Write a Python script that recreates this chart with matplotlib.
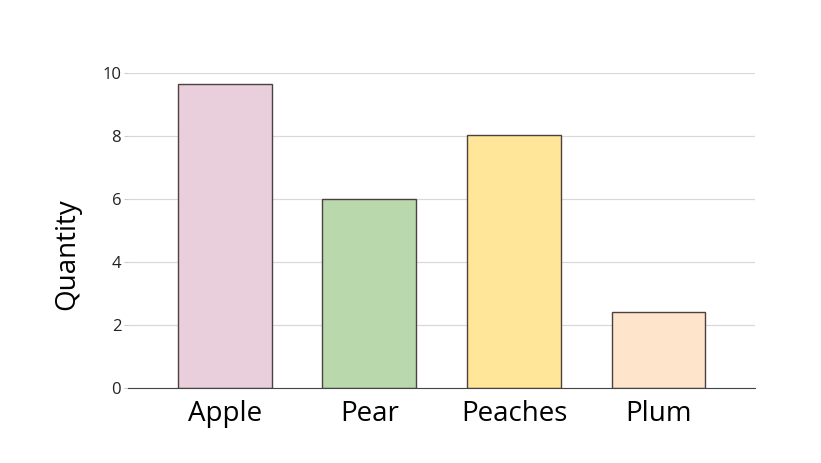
import matplotlib
matplotlib.use("Agg")
import matplotlib.pyplot as plt

# data
fruits = ["Apple", "Pear", "Peaches", "Plum"]
quantity = [9.65, 6.0, 8.05, 2.4]
colors = ["#E8CFDB", "#B9D9AC", "#FFE699", "#FDE4CA"]

plt.rcParams['font.family'] = ['Open Sans', 'DejaVu Sans']

fig = plt.figure(figsize=(8.21, 4.63), dpi=100)
ax = fig.add_axes([0.156, 0.162, 0.764, 0.68])

ax.bar(range(len(fruits)), quantity, width=0.65, color=colors,
       edgecolor="#4d4040", linewidth=1.0, zorder=3)

ax.set_xlim(-0.67, 3.67)
ax.set_ylim(0, 10)
ax.set_yticks([0, 2, 4, 6, 8, 10])
ax.set_xticks(range(len(fruits)))
ax.set_xticklabels(fruits, fontsize=20)
ax.tick_params(axis="y", labelsize=12, length=3, pad=2, color="#cccccc")
ax.tick_params(axis="x", length=0, pad=9)
for lab in ax.get_yticklabels():
    lab.set_color("#222222")

ax.grid(axis="y", color="#d9d9d9", linewidth=0.9, zorder=0)
for s in ["top", "right", "left"]:
    ax.spines[s].set_visible(False)
ax.spines["bottom"].set_color("#444444")
ax.spines["bottom"].set_zorder(4)

ax.set_ylabel("Quantity", fontsize=20)
ax.yaxis.set_label_coords(-0.074, 0.425)

fig.savefig("out.png", dpi=100)
